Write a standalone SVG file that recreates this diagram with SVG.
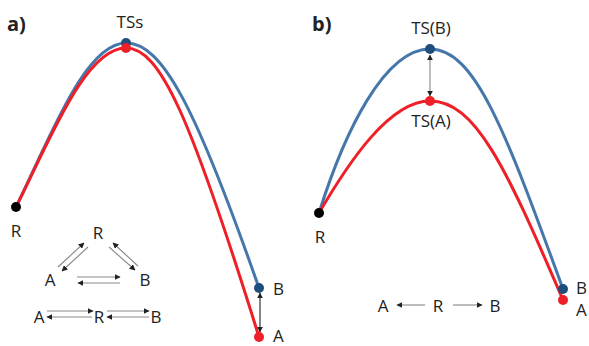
<svg xmlns="http://www.w3.org/2000/svg" width="589" height="346" viewBox="0 0 589 346">
<style>
text{font-family:"Open Sans","Liberation Sans",sans-serif;font-size:17px;fill:#222}
.lbl{text-anchor:middle}
.h{font-weight:bold;font-size:20px}
.blue{fill:none;stroke:#4677aa;stroke-width:3}
.red{fill:none;stroke:#ee1f26;stroke-width:3}
.ar{fill:none;stroke:#888;stroke-width:1.1}
.ak{fill:none;stroke:#222;stroke-width:1.1}
</style>
<defs>
<marker id="ah" viewBox="0 0 10 10" refX="9" refY="5" markerWidth="6" markerHeight="6" markerUnits="userSpaceOnUse" orient="auto-start-reverse">
<path d="M0,0 L10,5 L0,10 Z" fill="#222"/>
</marker>
</defs>
<g id="labels">
<text x="7" y="31" class="h">a)</text>
<text x="312" y="31" class="h">b)</text>
</g>
<g id="connectors">
<path class="blue" d="M16,207 C50,138 85,43 126,43 C162,43 195,105 259,288"/>
<path class="red" d="M16,207 C50,140 85,48 126,48 C160,48 190,115 259,337"/>
<path class="blue" d="M319,213 C345,130 385,49 430,49 C475,49 505,130 563,289"/>
<path class="red" d="M319,213 C350,160 390,101 430,101 C475,101 505,165 563,300"/>
<line class="ak" x1="260" y1="293" x2="260" y2="332" marker-start="url(#ah)" marker-end="url(#ah)"/>
<line class="ar" x1="430" y1="55" x2="430" y2="96" marker-start="url(#ah)" marker-end="url(#ah)"/>
<line class="ar" x1="58" y1="267" x2="84" y2="243" marker-end="url(#ah)"/>
<line class="ar" x1="88" y1="247" x2="62" y2="271" marker-end="url(#ah)"/>
<line class="ar" x1="138" y1="266" x2="113" y2="243" marker-end="url(#ah)"/>
<line class="ar" x1="109" y1="247" x2="135" y2="270" marker-end="url(#ah)"/>
<line class="ar" x1="77" y1="277" x2="120" y2="277" marker-end="url(#ah)"/>
<line class="ar" x1="120" y1="283" x2="78" y2="283" marker-end="url(#ah)"/>
<line class="ar" x1="47" y1="311" x2="93" y2="311" marker-end="url(#ah)"/>
<line class="ar" x1="92" y1="317" x2="47" y2="317" marker-end="url(#ah)"/>
<line class="ar" x1="107" y1="311" x2="149" y2="311" marker-end="url(#ah)"/>
<line class="ar" x1="149" y1="317" x2="107" y2="317" marker-end="url(#ah)"/>
<line class="ar" x1="425" y1="305" x2="397" y2="305" marker-end="url(#ah)"/>
<line class="ar" x1="453" y1="305" x2="482" y2="305" marker-end="url(#ah)"/>
</g>
<g id="a-R"><circle cx="16" cy="207" r="5" fill="#000"/><text x="16" y="237" class="lbl">R</text></g>
<g id="a-TS"><circle cx="126" cy="43" r="5" fill="#1f4e7d"/><circle cx="126" cy="48" r="5" fill="#ee1f26"/><text x="130" y="28" class="lbl">TSs</text></g>
<g id="a-B"><circle cx="259" cy="288" r="5" fill="#1f4e7d"/><text x="273" y="295">B</text></g>
<g id="a-A"><circle cx="259" cy="337" r="5" fill="#ee1f26"/><text x="273" y="342">A</text></g>
<g id="a-scheme">
<text x="98" y="239" class="lbl">R</text>
<text x="50" y="286" class="lbl">A</text>
<text x="145" y="286" class="lbl">B</text>
<text x="39" y="323" class="lbl">A</text>
<text x="99" y="323" class="lbl">R</text>
<text x="156" y="323" class="lbl">B</text>
</g>
<g id="b-R"><circle cx="319" cy="213" r="5" fill="#000"/><text x="320" y="243" class="lbl">R</text></g>
<g id="b-TSB"><circle cx="430" cy="49" r="5" fill="#1f4e7d"/><text x="431" y="34" class="lbl">TS(B)</text></g>
<g id="b-TSA"><circle cx="430" cy="101" r="5" fill="#ee1f26"/><text x="431" y="127" class="lbl">TS(A)</text></g>
<g id="b-B"><circle cx="563" cy="289" r="5" fill="#1f4e7d"/><text x="576" y="294">B</text></g>
<g id="b-A"><circle cx="563" cy="300" r="5" fill="#ee1f26"/><text x="576" y="316">A</text></g>
<g id="b-scheme">
<text x="383" y="312" class="lbl">A</text>
<text x="438" y="312" class="lbl">R</text>
<text x="495" y="312" class="lbl">B</text>
</g>
</svg>
